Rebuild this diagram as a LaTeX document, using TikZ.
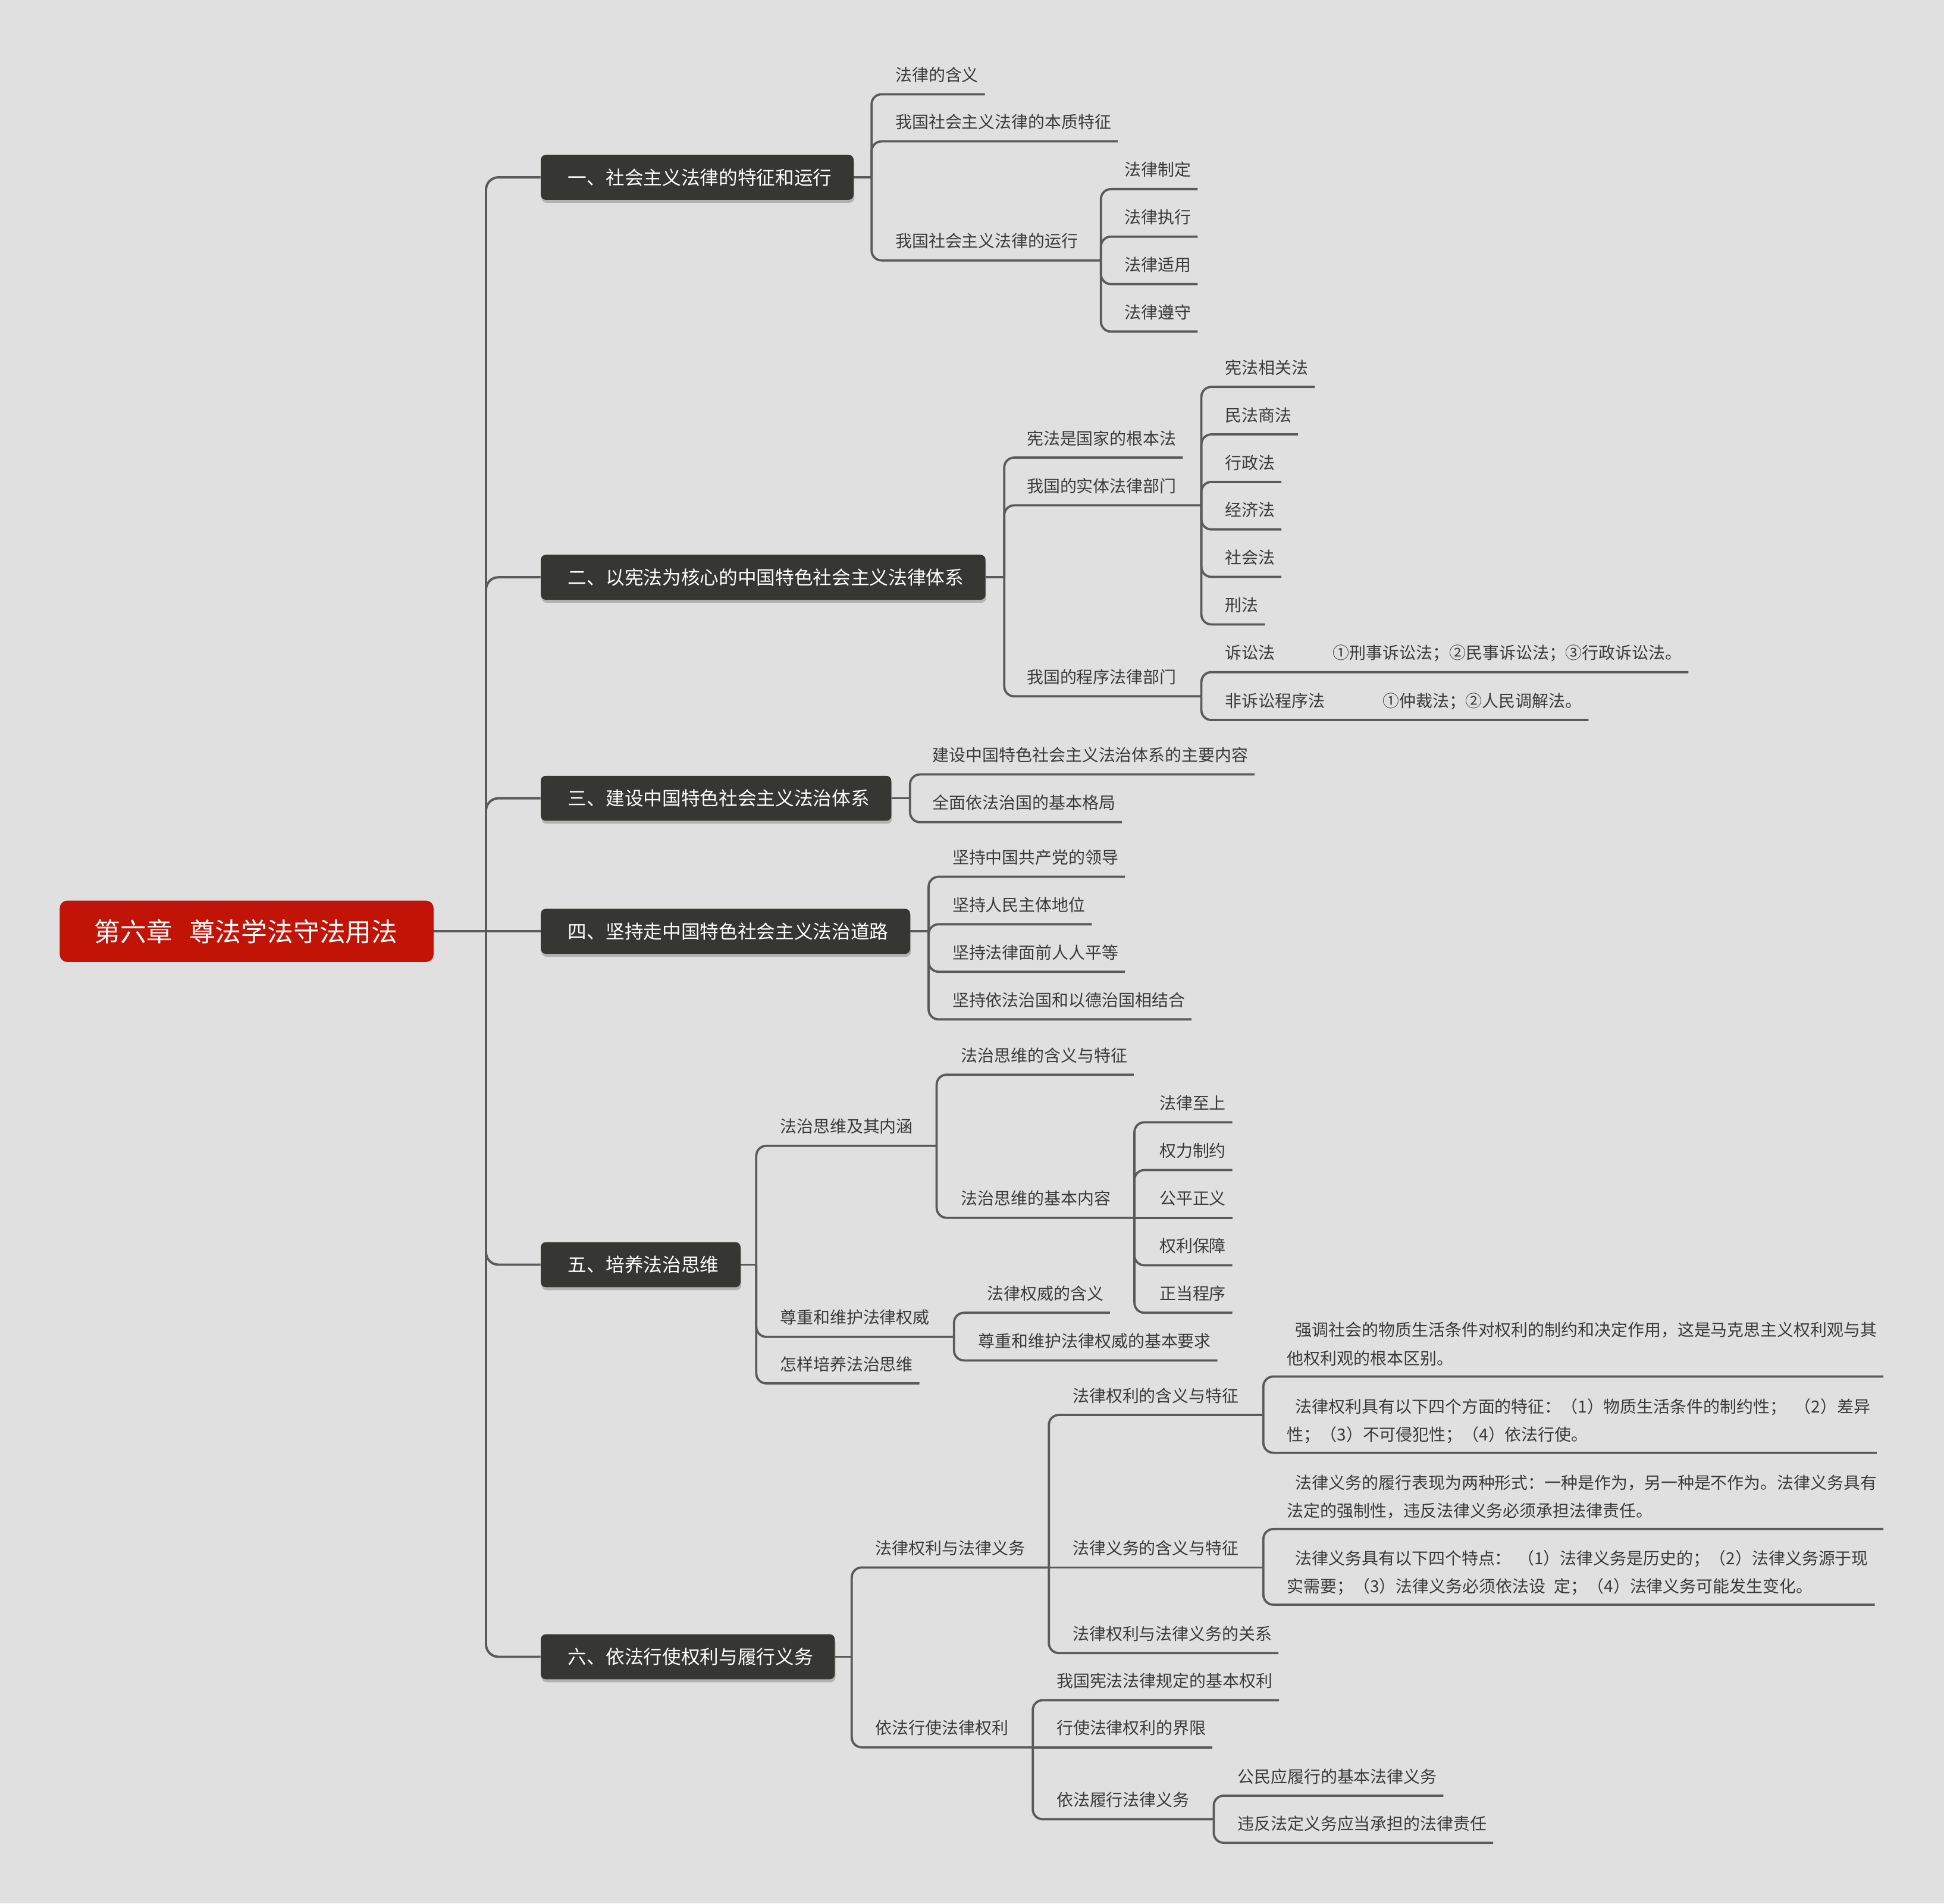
\documentclass[tikz,border=0pt]{standalone}
\usepackage{fontspec}
\setmainfont{Noto Sans CJK SC}
\usetikzlibrary{calc,shadows}
\definecolor{bgc}{HTML}{E0E0E0}
\definecolor{lin}{HTML}{5A5A5A}
\definecolor{boxc}{HTML}{363632}
\definecolor{rootc}{HTML}{C11306}
\definecolor{txt}{HTML}{3A3A3A}
\tikzset{
  conn/.style={draw=lin, line width=1.8pt, rounded corners=8pt},
  trunkline/.style={draw=lin, line width=1.9pt, rounded corners=10pt},
  leaf/.style={inner sep=0pt, text=txt, font=\fontsize{13.4}{16}\selectfont},
  mainbox/.style={fill=boxc, rounded corners=4pt, inner xsep=0pt, inner ysep=0pt,
    minimum height=36.3pt, text=white, font=\fontsize{15.2}{18}\selectfont,
    drop shadow={shadow xshift=0.6pt, shadow yshift=-2.4pt, opacity=0.2, fill=black}},
  rootbox/.style={fill=rootc, rounded corners=6pt, inner xsep=0pt, inner ysep=0pt,
    minimum height=49.5pt, text=white, font=\fontsize{21}{24}\selectfont},
}
% leaf: name, text x, underline y (down), text
\newcommand\Lf[4]{\node[leaf,anchor=base west] (#1) at (#2,{-(#3)+10.5}) {#4};
  \coordinate (#1-e) at ($(#1.base east)+(5,-10.5)$);}
% hub: name, text x, underline y, bracket x, text
\newcommand\Hb[5]{\node[leaf,anchor=base west] (#1) at (#2,{-(#3)+10.5}) {#5};
  \coordinate (#1-e) at (#4,{-(#3)});}
% paragraph: name, x, underline y, line1, line2
\newcommand\Pa[5]{\node[leaf,anchor=base west] (#1a) at (#2,{-(#3)+32.4}) {\hspace*{6.7pt}#4};
  \node[leaf,anchor=base west] (#1b) at (#2,{-(#3)+9.6}) {#5};
  \coordinate (#1-e) at ($(#1a.base east)+(5,-32.4)$);}
\begin{document}
\begin{tikzpicture}[x=1pt,y=1pt]
\useasboundingbox (0,0) rectangle (1568,-1535);
\fill[bgc] (0,0) rectangle (1568,-1535);

% root and main boxes
\node[rootbox,anchor=west] (root) at (48,-751) {\hspace*{28pt}第六章\hspace{13.5pt}尊法学法守法用法\hspace*{29pt}};
\coordinate (trunk) at (392,-751);
\node[mainbox,anchor=west] (m1) at (436,-143) {\hspace*{22pt}一、社会主义法律的特征和运行\hspace*{17.5pt}};
\node[mainbox,anchor=west] (m2) at (436,-465.5) {\hspace*{22pt}二、以宪法为核心的中国特色社会主义法律体系\hspace*{17.5pt}};
\node[mainbox,anchor=west] (m3) at (436,-643.7) {\hspace*{22pt}三、建设中国特色社会主义法治体系\hspace*{17.5pt}};
\node[mainbox,anchor=west] (m4) at (436,-751) {\hspace*{22pt}四、坚持走中国特色社会主义法治道路\hspace*{17.5pt}};
\node[mainbox,anchor=west] (m5) at (436,-1019.8) {\hspace*{22pt}五、培养法治思维\hspace*{17.5pt}};
\node[mainbox,anchor=west] (m6) at (436,-1336) {\hspace*{22pt}六、依法行使权利与履行义务\hspace*{17.5pt}};

\draw[trunkline] (root.east) -- (trunk);
\foreach \m in {m1,m2,m3,m5,m6} {\draw[trunkline] (trunk) |- (\m.west);}
\draw[trunkline] (trunk) -- (m4.west);

% ---------- branch 1
\coordinate (m1-j) at (703,-143);
\Lf{c11}{722}{76}{法律的含义}
\Lf{c12}{722}{114}{我国社会主义法律的本质特征}
\Hb{c13}{722}{210}{888}{我国社会主义法律的运行}
\Lf{c131}{907}{152.5}{法律制定}
\Lf{c132}{907}{190.8}{法律执行}
\Lf{c133}{907}{229.1}{法律适用}
\Lf{c134}{907}{267.4}{法律遵守}
\draw[conn] (m1.east) -- (m1-j);
\foreach \c in {c11,c12,c13} {\draw[conn] (m1-j) |- (\c-e);}
\foreach \c in {c131,c132,c133,c134} {\draw[conn] (c13-e) |- (\c-e);}

% ---------- branch 2
\coordinate (m2-j) at (810,-465.5);
\Lf{c21}{828}{369}{宪法是国家的根本法}
\Hb{c22}{828}{407.5}{969}{我国的实体法律部门}
\Hb{c23}{828}{561.5}{969}{我国的程序法律部门}
\Lf{c221}{988}{312}{宪法相关法}
\Lf{c222}{988}{350.3}{民法商法}
\Lf{c223}{988}{388.6}{行政法}
\Lf{c224}{988}{426.9}{经济法}
\Lf{c225}{988}{465.2}{社会法}
\Lf{c226}{988}{503.5}{刑法}
\node[leaf,anchor=base west] (c231) at (988,{-542+10.5}) {诉讼法};
\Lf{c231x}{1075}{542}{①刑事诉讼法；②民事诉讼法；③行政诉讼法。}
\node[leaf,anchor=base west] (c232) at (988,{-580.6+10.5}) {非诉讼程序法};
\Lf{c232x}{1115}{580.6}{①仲裁法；②人民调解法。}
\draw[conn] (m2.east) -- (m2-j);
\foreach \c in {c21,c22,c23} {\draw[conn] (m2-j) |- (\c-e);}
\foreach \c in {c221,c222,c223,c224,c225,c226} {\draw[conn] (c22-e) |- (\c-e);}
\foreach \c in {c231x,c232x} {\draw[conn] (c23-e) |- (\c-e);}

% ---------- branch 3
\coordinate (m3-j) at (734,-643.7);
\Lf{c31}{752}{624.5}{建设中国特色社会主义法治体系的主要内容}
\Lf{c32}{752}{663}{全面依法治国的基本格局}
\draw[conn] (m3.east) -- (m3-j);
\foreach \c in {c31,c32} {\draw[conn] (m3-j) |- (\c-e);}

% ---------- branch 4
\coordinate (m4-j) at (749,-751);
\Lf{c41}{768}{707}{坚持中国共产党的领导}
\Lf{c42}{768}{745.3}{坚持人民主体地位}
\Lf{c43}{768}{783.6}{坚持法律面前人人平等}
\Lf{c44}{768}{822}{坚持依法治国和以德治国相结合}
\draw[conn] (m4.east) -- (m4-j);
\foreach \c in {c41,c42,c43,c44} {\draw[conn] (m4-j) |- (\c-e);}

% ---------- branch 5
\coordinate (m5-j) at (610,-1019.8);
\Hb{c51}{629}{924}{755.5}{法治思维及其内涵}
\Lf{c511}{775}{866.6}{法治思维的含义与特征}
\Hb{c512}{775}{982}{915}{法治思维的基本内容}
\Lf{c5121}{935}{905}{法律至上}
\Lf{c5122}{935}{943.5}{权力制约}
\Lf{c5123}{935}{982}{公平正义}
\Lf{c5124}{935}{1020.3}{权利保障}
\Lf{c5125}{935}{1058.6}{正当程序}
\Hb{c52}{629}{1078}{769.5}{尊重和维护法律权威}
\Lf{c521}{796}{1058.6}{法律权威的含义}
\Lf{c522}{789}{1097}{尊重和维护法律权威的基本要求}
\Lf{c53}{629}{1115.5}{怎样培养法治思维}
\draw[conn] (m5.east) -- (m5-j);
\foreach \c in {c51,c52,c53} {\draw[conn] (m5-j) |- (\c-e);}
\foreach \c in {c511,c512} {\draw[conn] (c51-e) |- (\c-e);}
\foreach \c in {c5121,c5122,c5124,c5125} {\draw[conn] (c512-e) |- (\c-e);}
\draw[conn] (c512-e) -- (c5123-e);
\foreach \c in {c521,c522} {\draw[conn] (c52-e) |- (\c-e);}

% ---------- branch 6
\coordinate (m6-j) at (687,-1336);
\Hb{c61}{706}{1264}{846}{法律权利与法律义务}
\Hb{c611}{865}{1141}{1019}{法律权利的含义与特征}
\Pa{p1}{1038}{1110}{强调社会的物质生活条件对权利的制约和决定作用，这是马克思主义权利观与其}{他权利观的根本区别。}
\Pa{p2}{1038}{1171.5}{法律权利具有以下四个方面的特征：（1）物质生活条件的制约性；\hspace{6.5pt}（2）差异}{性；（3）不可侵犯性；（4）依法行使。}
\Hb{c612}{865}{1264}{1019}{法律义务的含义与特征}
\Pa{p3}{1038}{1233}{法律义务的履行表现为两种形式：一种是作为，另一种是不作为。法律义务具有}{法定的强制性，违反法律义务必须承担法律责任。}
\Pa{p4}{1038}{1294}{法律义务具有以下四个特点：\hspace{5pt}（1）法律义务是历史的；（2）法律义务源于现}{实需要；（3）法律义务必须依法设\hspace{7pt}定；（4）法律义务可能发生变化。}
\Lf{c613}{865}{1333}{法律权利与法律义务的关系}
\Hb{c62}{706}{1409}{833}{依法行使法律权利}
\Lf{c621}{852}{1371}{我国宪法法律规定的基本权利}
\Lf{c622}{852}{1409}{行使法律权利的界限}
\Hb{c623}{852}{1467}{979}{依法履行法律义务}
\Lf{c6231}{998}{1448}{公民应履行的基本法律义务}
\Lf{c6232}{998}{1486}{违反法定义务应当承担的法律责任}
\draw[conn] (m6.east) -- (m6-j);
\foreach \c in {c61,c62} {\draw[conn] (m6-j) |- (\c-e);}
\foreach \c in {c611,c613} {\draw[conn] (c61-e) |- (\c-e);}
\draw[conn] (c61-e) -- (c612-e);
\foreach \c in {p1,p2} {\draw[conn] (c611-e) |- (\c-e);}
\foreach \c in {p3,p4} {\draw[conn] (c612-e) |- (\c-e);}
\foreach \c in {c621,c623} {\draw[conn] (c62-e) |- (\c-e);}
\draw[conn] (c62-e) -- (c622-e);
\foreach \c in {c6231,c6232} {\draw[conn] (c623-e) |- (\c-e);}
\end{tikzpicture}
\end{document}
